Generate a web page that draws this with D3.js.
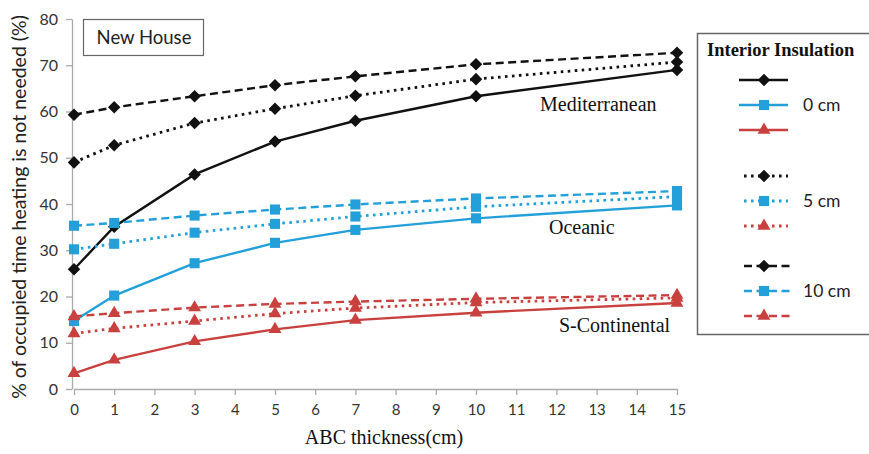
<!DOCTYPE html>
<html lang="en">
<head>
    <meta charset="UTF-8">
    <title>New House - heating not needed</title>
    <style>
        body { margin: 0; background: #fff; }
        .axis path, .axis line { stroke: #aaaaaa; stroke-width: 1.3; }
        .axis text { font-family: Lato, "Open Sans", sans-serif; font-size: 16px; fill: #333; }
        .serif { font-family: "Liberation Serif", "DejaVu Serif", serif; fill: #111; }
    </style>
</head>
<body>
<div id="chart"></div>
<script src="https://cdn.jsdelivr.net/npm/d3@7"></script>
<script>
    // ABC thickness (cm) at which values were reported
    const thickness = [0, 1, 3, 5, 7, 10, 15];
    const xTicks = d3.range(0, 16);
    const yTicks = [0, 10, 20, 30, 40, 50, 60, 70, 80];
    const climates = ["Mediterranean", "Oceanic", "S-Continental"];
    const insulations = ["0 cm", "5 cm", "10 cm"];

    // % of occupied time heating is not needed
    const med0 = [25.9, 35.1, 46.4, 53.5, 58.0, 63.3, 69.0];
    const med5 = [49.0, 52.7, 57.5, 60.6, 63.4, 67.0, 70.7];
    const med10 = [59.3, 60.9, 63.3, 65.7, 67.6, 70.2, 72.7];
    const oce0 = [14.7, 20.2, 27.2, 31.6, 34.4, 36.9, 39.7];
    const oce5 = [30.2, 31.4, 33.8, 35.7, 37.3, 39.4, 41.6];
    const oce10 = [35.3, 35.9, 37.5, 38.8, 39.9, 41.2, 42.8];
    const sc0 = [3.4, 6.3, 10.3, 12.9, 14.9, 16.5, 18.6];
    const sc5 = [12.0, 13.1, 14.7, 16.3, 17.5, 18.7, 19.7];
    const sc10 = [15.7, 16.4, 17.6, 18.4, 18.9, 19.5, 20.3];

    const colors = {"Mediterranean": "#111111", "Oceanic": "#23a0da", "S-Continental": "#c9413f"};
    const markers = {"Mediterranean": d3.symbolDiamond2, "Oceanic": d3.symbolSquare2, "S-Continental": d3.symbolTriangle2};
    const markerSize = {"Mediterranean": 100, "Oceanic": 130, "S-Continental": 120};
    const dashes = {"0 cm": null, "5 cm": "2.6 4.4", "10 cm": "8 4.5"};

    const series = [
        {climate: "Mediterranean", ins: "0 cm", values: med0},
        {climate: "Mediterranean", ins: "5 cm", values: med5},
        {climate: "Mediterranean", ins: "10 cm", values: med10},
        {climate: "Oceanic", ins: "0 cm", values: oce0},
        {climate: "Oceanic", ins: "5 cm", values: oce5},
        {climate: "Oceanic", ins: "10 cm", values: oce10},
        {climate: "S-Continental", ins: "0 cm", values: sc0},
        {climate: "S-Continental", ins: "5 cm", values: sc5},
        {climate: "S-Continental", ins: "10 cm", values: sc10}
    ];

    const width = 869, height = 454;
    const svg = d3.select("#chart").append("svg")
        .attr("width", width)
        .attr("height", height);

    const x = d3.scaleLinear().domain([0, 15]).range([74, 677]);
    const y = d3.scaleLinear().domain([0, 80]).range([389, 19]);

    // axes
    svg.append("g")
        .attr("class", "axis")
        .attr("transform", "translate(0," + y(0) + ")")
        .call(d3.axisBottom(x).tickValues(xTicks).tickSize(6).tickPadding(9).tickSizeOuter(0))
        .call(g => g.selectAll("text").style("font-size", "15px"));
    svg.append("g")
        .attr("class", "axis")
        .attr("transform", "translate(" + (x(0) - 2) + ",0)")
        .call(d3.axisLeft(y).tickValues(yTicks).tickSize(6).tickPadding(8).tickSizeOuter(0));

    svg.append("text")
        .attr("class", "serif")
        .attr("x", 384)
        .attr("y", 444)
        .attr("text-anchor", "middle")
        .style("font-size", "20px")
        .text("ABC thickness(cm)");

    svg.append("text")
        .attr("transform", "translate(26," + 207 + ") rotate(-90)")
        .attr("text-anchor", "middle")
        .style("font-family", "Lato, 'Open Sans', sans-serif")
        .style("font-size", "19.5px")
        .style("fill", "#222")
        .text("% of occupied time heating is not needed (%)");

    // lines
    const line = d3.line()
        .x((d, i) => x(thickness[i]))
        .y(d => y(d));

    const sym = d3.symbol();

    const g = svg.append("g");
    const sg = g.selectAll("g.series")
        .data(series)
        .enter()
        .append("g")
        .attr("class", "series");

    sg.append("path")
        .attr("d", d => line(d.values))
        .attr("fill", "none")
        .attr("stroke", d => colors[d.climate])
        .attr("stroke-width", d => d.ins === "5 cm" ? 2.8 : 2.4)
        .attr("stroke-dasharray", d => dashes[d.ins]);

    sg.selectAll("path.mk")
        .data(d => d.values.map((v, i) => ({v: v, t: thickness[i], climate: d.climate})))
        .enter()
        .append("path")
        .attr("class", "mk")
        .attr("transform", d => "translate(" + x(d.t) + "," + y(d.v) + ")")
        .attr("d", d => sym.type(markers[d.climate]).size(markerSize[d.climate])())
        .attr("fill", d => colors[d.climate]);

    // climate labels
    const climateLabelPos = {"Mediterranean": [540, 111], "Oceanic": [549, 234], "S-Continental": [559, 332]};
    svg.selectAll("text.clabel")
        .data(climates)
        .enter()
        .append("text")
        .attr("class", "serif clabel")
        .attr("x", d => climateLabelPos[d][0])
        .attr("y", d => climateLabelPos[d][1])
        .style("font-size", "20px")
        .text(d => d);

    // "New House" box
    svg.append("rect")
        .attr("x", 83.5).attr("y", 19.5)
        .attr("width", 120).attr("height", 36)
        .attr("fill", "#fff")
        .attr("stroke", "#666")
        .attr("stroke-width", 1.2);
    svg.append("text")
        .attr("x", 144).attr("y", 44)
        .attr("text-anchor", "middle")
        .style("font-family", "Lato, 'Open Sans', sans-serif")
        .style("font-size", "18.5px")
        .style("fill", "#222")
        .text("New House");

    // legend
    const legend = svg.append("g");
    legend.append("rect")
        .attr("x", 697.5).attr("y", 33.5)
        .attr("width", 175).attr("height", 301)
        .attr("fill", "#fff")
        .attr("stroke", "#666")
        .attr("stroke-width", 1.5);
    legend.append("text")
        .attr("class", "serif")
        .attr("x", 707).attr("y", 56)
        .style("font-size", "18.5px")
        .style("font-weight", "bold")
        .text("Interior Insulation");

    const groupTop = {"0 cm": 80, "5 cm": 176, "10 cm": 266};
    const rowGap = 25;
    const lg = legend.selectAll("g.item")
        .data(series)
        .enter()
        .append("g")
        .attr("class", "item")
        .attr("transform", d => "translate(0," + (groupTop[d.ins] + climates.indexOf(d.climate) * rowGap) + ")");
    lg.append("line")
        .attr("x1", d => d.ins === "0 cm" ? 739 : 744)
        .attr("x2", d => d.ins === "10 cm" ? 792 : 788)
        .attr("stroke", d => colors[d.climate])
        .attr("stroke-width", d => d.ins === "5 cm" ? 2.8 : 2.4)
        .attr("stroke-dasharray", d => dashes[d.ins]);
    lg.append("path")
        .attr("transform", "translate(764,0)")
        .attr("d", d => sym.type(markers[d.climate]).size(markerSize[d.climate])())
        .attr("fill", d => colors[d.climate]);

    legend.selectAll("text.ins")
        .data(insulations)
        .enter()
        .append("text")
        .attr("class", "ins")
        .attr("x", 803)
        .attr("y", d => groupTop[d] + rowGap + 6)
        .style("font-family", "Lato, 'Open Sans', sans-serif")
        .style("font-size", "17.5px")
        .style("fill", "#222")
        .text(d => d);
</script>
</body>
</html>
